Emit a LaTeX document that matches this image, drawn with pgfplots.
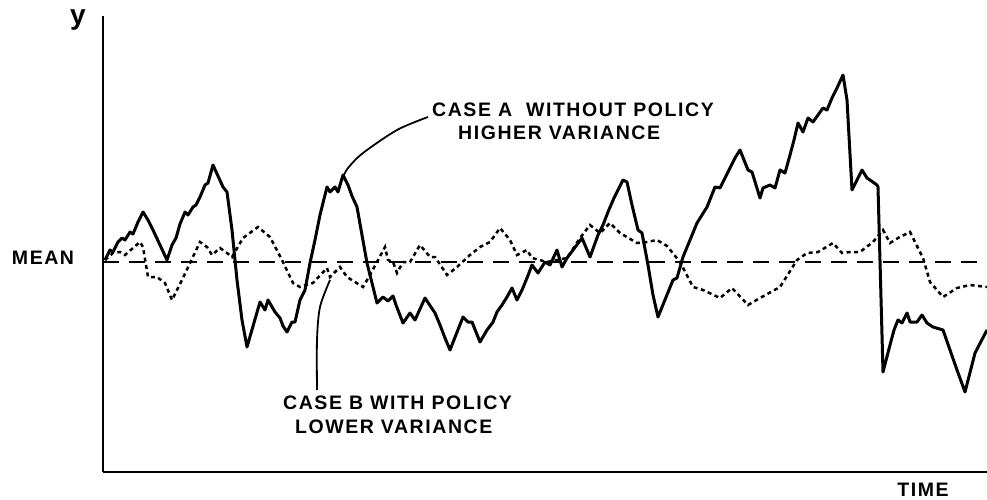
\documentclass[border=0pt]{standalone}
\usepackage{fontspec}
\setmainfont{Liberation Sans}
\newfontfamily\hand{Liberation Sans}[LetterSpace=8]
\usepackage{pgfplots}
\pgfplotsset{compat=1.18}
\begin{document}
\begin{tikzpicture}
\useasboundingbox (-103pt,-27pt) rectangle (884pt,472pt);
\begin{axis}[
  scale only axis,
  width=884pt, height=456pt,
  xmin=103, xmax=987, ymin=-472, ymax=-16,
  axis x line=bottom, axis y line=left,
  axis line style={-, line width=2.2pt},
  xtick=\empty, ytick=\empty,
  clip=false,
]
% mean
\addplot[black, line width=2.2pt, dash pattern=on 16pt off 10pt] coordinates {(103,-262) (987,-262)};
% Case B (dotted, lower variance)
\addplot[black, line width=2.5pt, dash pattern=on 4pt off 3.5pt] coordinates {
(105,-260) (113,-253) (120,-252) (125,-255) (140,-242) (143,-247) (148,-277) (157,-277) (165,-283) (172,-300)
(182,-280) (190,-263) (200,-242) (207,-247) (212,-255) (220,-248) (227,-253) (232,-257) (243,-238) (258,-227)
(270,-237) (282,-260) (293,-283) (300,-287) (313,-283) (327,-268) (330,-277) (340,-267) (347,-277) (363,-287)
(370,-275) (385,-247) (388,-260) (393,-262) (397,-273) (403,-262) (410,-262) (420,-245) (430,-257) (435,-257)
(447,-275) (457,-267) (470,-255) (480,-247) (490,-242) (500,-228) (510,-240) (517,-255) (527,-250) (532,-258)
(547,-262) (567,-258) (580,-238) (590,-225) (600,-233) (610,-223) (620,-233) (637,-243) (647,-242) (657,-240)
(667,-246) (680,-262) (693,-287) (703,-290) (720,-298) (732,-288) (748,-305) (760,-298) (780,-287) (797,-260)
(807,-253) (818,-252) (833,-243) (842,-253) (850,-252) (860,-252) (873,-242) (883,-230) (890,-243) (898,-238)
(910,-232) (923,-258) (930,-282) (943,-297) (957,-288) (970,-285) (987,-287)
};
% Case A (solid, higher variance)
\addplot[black, line width=3pt, line join=round] coordinates {
(105,-260) (110,-250) (113,-252) (118,-242) (122,-238) (125,-240) (130,-232) (133,-234) (138,-222) (143,-212)
(148,-220) (153,-230) (160,-245) (167,-260) (172,-245) (176,-238) (180,-224) (185,-212) (188,-215) (193,-207)
(196,-205) (200,-197) (205,-185) (208,-183) (213,-165) (223,-187) (227,-192) (232,-230) (237,-280) (242,-320)
(247,-347) (260,-302) (265,-310) (268,-300) (275,-312) (280,-318) (283,-326) (287,-332) (292,-322) (295,-322)
(300,-300) (305,-290) (310,-263) (315,-240) (320,-215) (327,-187) (330,-192) (335,-187) (338,-192) (343,-175)
(348,-185) (352,-196) (357,-207) (367,-263) (377,-303) (383,-297) (388,-301) (393,-296) (396,-305) (403,-323)
(410,-313) (415,-320) (425,-298) (435,-313) (440,-325) (445,-338) (450,-350) (463,-317) (468,-322) (472,-322)
(480,-342) (487,-330) (493,-322) (497,-312) (502,-305) (507,-297) (512,-288) (517,-300) (522,-290) (527,-278)
(532,-265) (538,-273) (545,-262) (550,-265) (557,-250) (562,-267) (567,-258) (582,-238) (590,-257) (598,-235)
(603,-225) (608,-212) (614,-198) (618,-190) (623,-180) (627,-182) (632,-205) (638,-230) (642,-233) (648,-265)
(653,-295) (658,-317) (673,-280) (677,-278) (683,-257) (690,-240) (697,-223) (707,-207) (715,-187) (720,-188)
(725,-178) (730,-168) (735,-158) (740,-150) (748,-170) (752,-172) (760,-198) (763,-188) (770,-185) (775,-188)
(780,-170) (785,-173) (790,-155) (794,-140) (798,-123) (803,-132) (808,-118) (813,-122) (823,-108) (827,-110)
(832,-98) (837,-88) (843,-75) (847,-100) (852,-190) (862,-170) (867,-178) (870,-180) (877,-185) (878,-187)
(883,-372) (890,-345) (894,-330) (898,-320) (902,-323) (907,-313) (910,-322) (917,-322) (922,-315) (927,-323)
(933,-327) (943,-330) (950,-350) (957,-370) (965,-392) (975,-353) (987,-330)
};
% leader lines
\draw[line width=1.8pt] plot[smooth] coordinates {(axis cs:343,-177) (axis cs:348,-168) (axis cs:363,-153) (axis cs:397,-130) (axis cs:428,-117)};
\draw[line width=1.8pt] plot[smooth] coordinates {(axis cs:330,-280) (axis cs:320,-307) (axis cs:317,-340) (axis cs:317,-390)};
% labels
\node[font=\hand\fontsize{19.5}{23}\selectfont\bfseries, anchor=west, inner sep=0pt] at (axis cs:432,-110) {CASE A\ \ WITHOUT POLICY};
\node[font=\hand\fontsize{19.5}{23}\selectfont\bfseries, anchor=west, inner sep=0pt] at (axis cs:458,-133) {HIGHER VARIANCE};
\node[font=\hand\fontsize{19.5}{23}\selectfont\bfseries, anchor=west, inner sep=0pt] at (axis cs:283,-403) {CASE B WITH POLICY};
\node[font=\hand\fontsize{19.5}{23}\selectfont\bfseries, anchor=west, inner sep=0pt] at (axis cs:295,-427) {LOWER VARIANCE};
\node[font=\hand\fontsize{19.5}{23}\selectfont\bfseries, inner sep=0pt] at (axis cs:43,-258) {MEAN};
\node[font=\hand\fontsize{19.5}{23}\selectfont\bfseries, inner sep=0pt] at (axis cs:923,-490) {TIME};
\node[font=\fontsize{28}{30}\selectfont\bfseries, inner sep=0pt] at (axis cs:78,-20) {y};
\end{axis}
\end{tikzpicture}
\end{document}
